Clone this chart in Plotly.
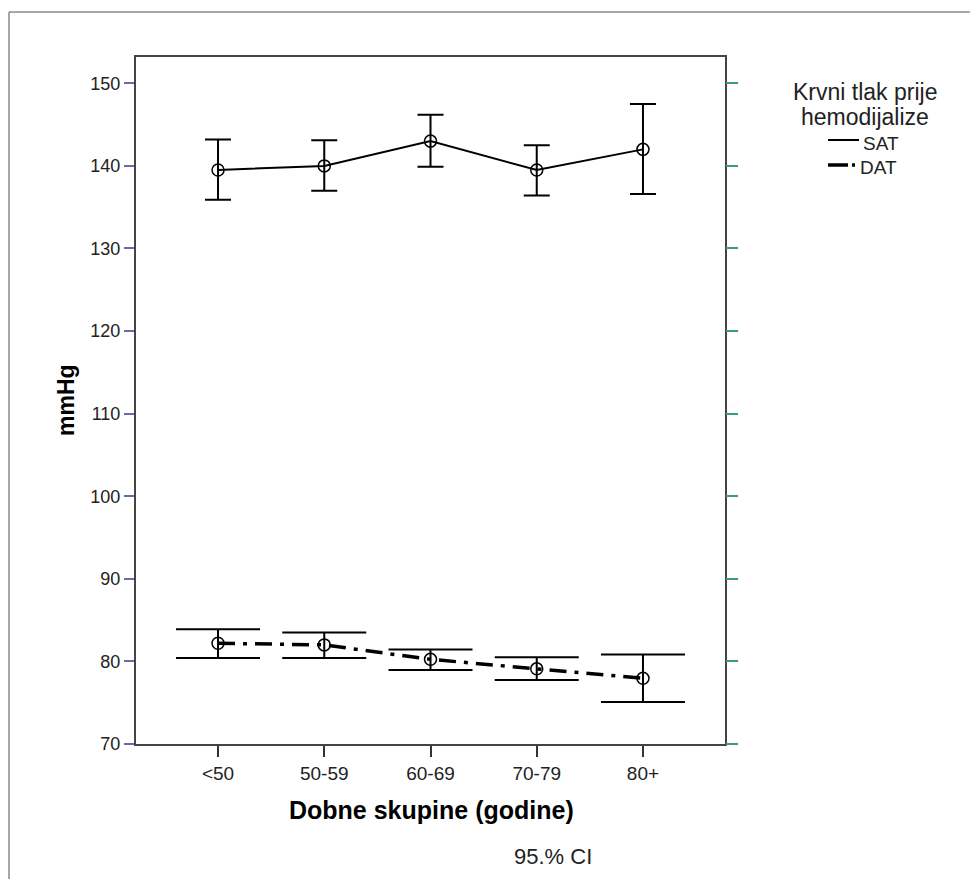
import plotly.graph_objects as go

# ---- data ----
groups = ["<50", "50-59", "60-69", "70-79", "80+"]
sat_mean = [139.5, 140.0, 143.0, 139.5, 142.0]
sat_upper = [143.2, 143.1, 146.2, 142.5, 147.5]
sat_lower = [135.9, 137.0, 139.9, 136.4, 136.6]
dat_mean = [82.2, 82.0, 80.25, 79.1, 77.95]
dat_upper = [83.9, 83.5, 81.45, 80.5, 80.85]
dat_lower = [80.4, 80.4, 78.95, 77.75, 75.1]
y_ticks = [70, 80, 90, 100, 110, 120, 130, 140, 150]

OFF = 8                       # page body margin
W, H = 978 - 2 * OFF, 887 - 2 * OFF
# plot area in page pixels -> figure pixels
L, R, T, B = 136 - OFF, 725 - OFF, 57 - OFF, 744 - OFF
FONT = "Liberation Sans, Arial, sans-serif"


def px2x(px):
    """page pixel x -> paper x"""
    return (px - OFF - L) / (R - L)


def px2y(py):
    """page pixel y -> paper y"""
    return (B - (py - OFF)) / (B - T)


def err(mean, upper, lower):
    return dict(type="data", symmetric=False,
                array=[u - m for u, m in zip(upper, mean)],
                arrayminus=[m - l for m, l in zip(mean, lower)])


fig = go.Figure()
fig.add_trace(go.Scatter(
    x=groups, y=sat_mean, name="SAT", mode="lines+markers",
    line=dict(color="black", width=2),
    marker=dict(symbol="circle-open", size=12, color="black", line=dict(width=1.5)),
    error_y=dict(**err(sat_mean, sat_upper, sat_lower), color="black", thickness=2, width=13),
))
fig.add_trace(go.Scatter(
    x=groups, y=dat_mean, name="DAT", mode="lines+markers",
    line=dict(color="black", width=3.5, dash="17px,8px,4px,8px"),
    marker=dict(symbol="circle-open", size=12, color="black", line=dict(width=1.5)),
    error_y=dict(**err(dat_mean, dat_upper, dat_lower), color="black", thickness=2, width=42),
))
# invisible trace to keep the right-hand tick axis alive
fig.add_trace(go.Scatter(x=groups[:1], y=[y_ticks[0]], yaxis="y2", mode="markers",
                         marker=dict(opacity=0), hoverinfo="skip", showlegend=False))

yr = [70, 150 + (83.3 - 57) / 8.259]

fig.update_layout(
    width=W, height=H, autosize=False,
    margin=dict(l=L, r=W - R, t=T, b=H - B, pad=0),
    paper_bgcolor="white", plot_bgcolor="white",
    showlegend=False,
    font=dict(family=FONT, size=18, color="#222222"),
    xaxis=dict(type="category", range=[-0.772, 4.772],
               showline=True, linecolor="#444444", linewidth=2, mirror=True,
               ticks="outside", ticklen=11, tickwidth=1.5, tickcolor="#333333",
               showgrid=False, zeroline=False,
               tickfont=dict(family=FONT, size=19, color="#222222")),
    yaxis=dict(range=yr, tickvals=y_ticks,
               showline=True, linecolor="#444444", linewidth=2, mirror=True,
               ticks="outside", ticklen=10, tickwidth=1.5, tickcolor="#6a6aa8",
               showgrid=False, zeroline=False,
               tickfont=dict(family=FONT, size=18, color="#222222")),
    yaxis2=dict(range=yr, tickvals=y_ticks, overlaying="y", side="right",
                showline=False, showticklabels=False,
                ticks="outside", ticklen=12, tickwidth=1.5, tickcolor="#3a9a8a",
                showgrid=False, zeroline=False),
)

ann = []
ann.append(dict(text="<b>mmHg</b>", x=px2x(66), y=px2y(400), textangle=-90,
                font=dict(family=FONT, size=23, color="black")))
ann.append(dict(text="<b>Dobne skupine (godine)</b>", x=px2x(431), y=px2y(810),
                font=dict(family=FONT, size=25, color="black")))
ann.append(dict(text="95.% CI", x=px2x(553), y=px2y(857),
                font=dict(family=FONT, size=22, color="#222222")))
ann.append(dict(text="Krvni tlak prije", x=px2x(865), y=px2y(92),
                font=dict(family=FONT, size=23, color="#222222")))
ann.append(dict(text="hemodijalize", x=px2x(865), y=px2y(117),
                font=dict(family=FONT, size=23, color="#222222")))
ann.append(dict(text="SAT", x=px2x(861), y=px2y(143), xanchor="left",
                font=dict(family=FONT, size=19, color="#222222")))
ann.append(dict(text="DAT", x=px2x(858), y=px2y(167), xanchor="left",
                font=dict(family=FONT, size=19, color="#222222")))
for a in ann:
    a.setdefault("xanchor", "center")
    a.update(xref="paper", yref="paper", yanchor="middle", showarrow=False)
fig.update_layout(annotations=ann)

shapes = [
    # legend samples
    dict(type="line", x0=px2x(828), x1=px2x(859), y0=px2y(140), y1=px2y(140),
         line=dict(color="black", width=2)),
    dict(type="line", x0=px2x(828), x1=px2x(848), y0=px2y(165), y1=px2y(165),
         line=dict(color="black", width=3.5)),
    dict(type="line", x0=px2x(852), x1=px2x(855), y0=px2y(165), y1=px2y(165),
         line=dict(color="black", width=3.5)),
    # outer frame (left and top edges visible)
    dict(type="line", x0=px2x(9), x1=px2x(9), y0=px2y(12), y1=px2y(890),
         line=dict(color="#8a8a8a", width=1.5)),
    dict(type="line", x0=px2x(9), x1=px2x(990), y0=px2y(12), y1=px2y(12),
         line=dict(color="#8a8a8a", width=1.5)),
]
for s in shapes:
    s.update(xref="paper", yref="paper")
fig.update_layout(shapes=shapes)

fig.write_html("out.html")
